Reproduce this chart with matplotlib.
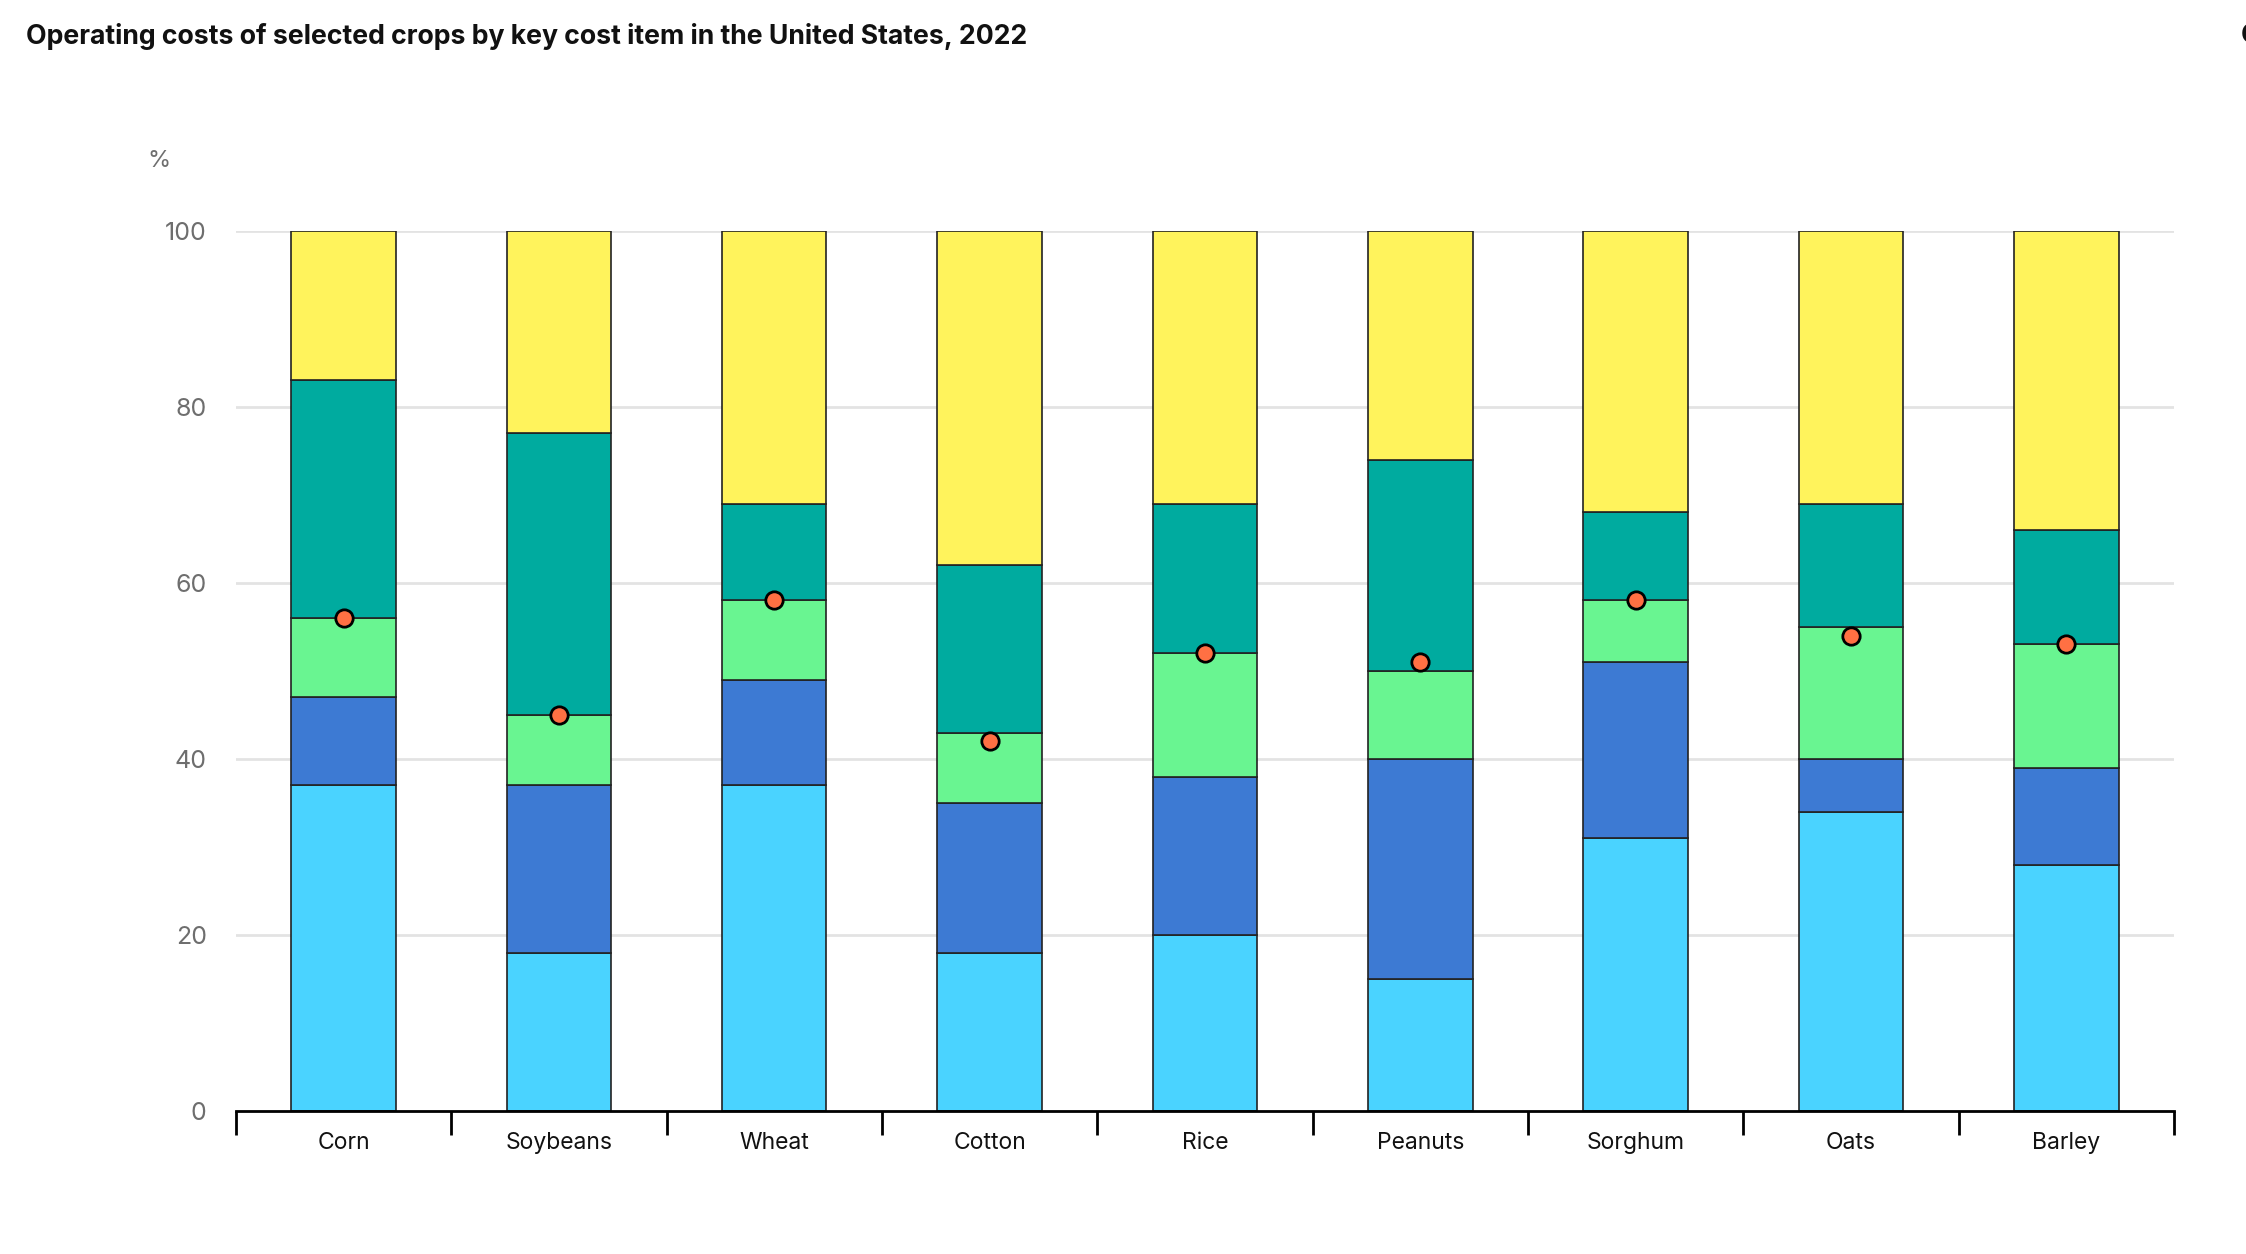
import numpy as np
import matplotlib.pyplot as plt

plt.rcParams['font.family'] = ['Inter', 'DejaVu Sans']

crops = ['Corn', 'Soybeans', 'Wheat', 'Cotton', 'Rice', 'Peanuts', 'Sorghum', 'Oats', 'Barley']

# share of operating costs per cost item (%), bottom to top
item_1 = [37, 18, 37, 18, 20, 15, 31, 34, 28]   # light blue
item_2 = [10, 19, 12, 17, 18, 25, 20, 6, 11]    # blue
item_3 = [9, 8, 9, 8, 14, 10, 7, 15, 14]        # light green
item_4 = [27, 32, 11, 19, 17, 24, 10, 14, 13]   # teal
item_5 = [17, 23, 31, 38, 31, 26, 32, 31, 34]   # yellow
# marker values (%)
dots = [56, 45, 58, 42, 52, 51, 58, 54, 53]

series = [item_1, item_2, item_3, item_4, item_5]
colors = ['#4ad3ff', '#3d7ad3', '#69f591', '#00ab9f', '#fff35c']

fig = plt.figure(figsize=(22.46, 12.54), dpi=100)
ax = fig.add_axes([0.105, 0.114, 0.863, 0.702])

x = np.arange(len(crops))
bottom = np.zeros(len(crops))
for vals, c in zip(series, colors):
    ax.bar(x, vals, bottom=bottom, width=0.485, color=c, edgecolor='#222222',
           linewidth=1.2, zorder=2)
    bottom += np.array(vals)

ax.plot(x, dots, 'o', color='#ff7043', markeredgecolor='black',
        markeredgewidth=2, markersize=12.5, zorder=4)

ax.set_xlim(-0.5, len(crops) - 0.5)
ax.set_ylim(0, 100)
ax.set_yticks([0, 20, 40, 60, 80, 100])
ax.yaxis.grid(True, color='#e3e3e3', linewidth=2, zorder=0)
ax.set_axisbelow(True)

for s in ['top', 'right', 'left']:
    ax.spines[s].set_visible(False)
ax.spines['bottom'].set_linewidth(2)
ax.spines['bottom'].set_color('black')

# category boundary ticks, labels centred under bars
ax.set_xticks(np.arange(-0.5, len(crops)), minor=False)
ax.set_xticklabels([])
ax.tick_params(axis='x', which='major', length=17, width=2, color='black')
ax.set_xticks(x, minor=True)
ax.set_xticklabels(crops, minor=True, fontsize=16.5, color='#111111')
ax.tick_params(axis='x', which='minor', length=0, pad=15)
ax.tick_params(axis='y', length=0, pad=21, labelsize=18, labelcolor='#6e6e6e')

fig.text(0.0654, 0.8716, '%', fontsize=17, color='#6e6e6e', va='center')
fig.text(0.0116, 0.971, 'Operating costs of selected crops by key cost item in the United States, 2022',
         fontsize=19.2, fontweight='bold', color='#111111', va='center')
fig.text(0.9978, 0.971, 'C', fontsize=20, fontweight='bold', color='#111111', va='center')

fig.savefig('out.png', dpi=100)
